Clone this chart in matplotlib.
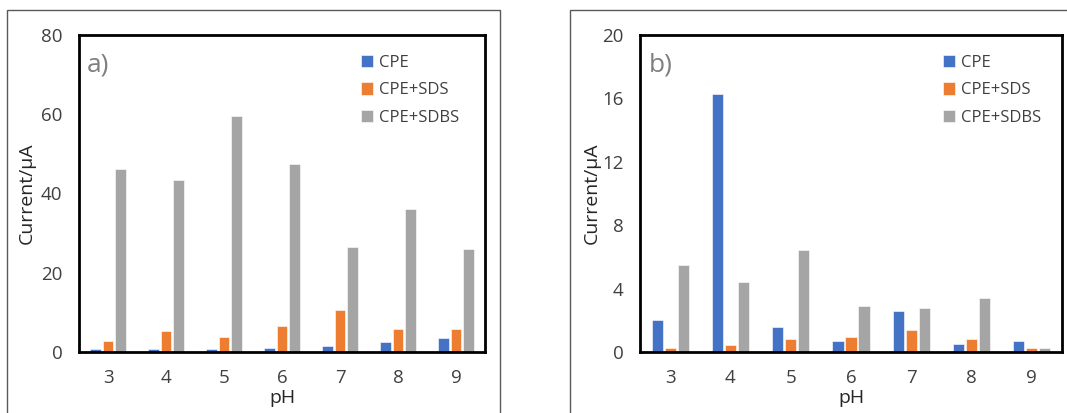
import matplotlib
matplotlib.use("Agg")
import matplotlib.pyplot as plt
from matplotlib.patches import Rectangle
import numpy as np

plt.rcParams['font.family'] = ['Open Sans', 'DejaVu Sans']

ph = ["3", "4", "5", "6", "7", "8", "9"]
series = ["CPE", "CPE+SDS", "CPE+SDBS"]
colors = ["#4472C4", "#ED7D31", "#A5A5A5"]

a_cpe = [0.7, 0.7, 0.7, 1.0, 1.5, 2.4, 3.5]
a_sds = [2.9, 5.4, 3.7, 6.5, 10.5, 5.9, 5.9]
a_sdbs = [46.2, 43.5, 59.6, 47.4, 26.4, 36.0, 25.9]

b_cpe = [2.0, 16.3, 1.6, 0.67, 2.6, 0.53, 0.67]
b_sds = [0.25, 0.46, 0.8, 0.93, 1.41, 0.8, 0.25]
b_sdbs = [5.5, 4.4, 6.46, 2.93, 2.78, 3.39, 0.25]

W, H = 1067, 413
fig = plt.figure(figsize=(W / 100, H / 100), dpi=100)

# outer panel frames
fig.add_artist(Rectangle((7 / W, -0.05), (500 - 7) / W, (H - 10) / H + 0.05,
                         transform=fig.transFigure, fill=False, edgecolor="#595959", lw=1.0))
fig.add_artist(Rectangle((570 / W, -0.05), 0.5, (H - 10) / H + 0.05,
                         transform=fig.transFigure, fill=False, edgecolor="#595959", lw=1.0))

def panel(rect, data, ymax, yticks, label, legx, ylpad):
    ax = fig.add_axes(rect)
    x = np.arange(len(ph))
    offs = [-0.215, 0.0, 0.215]
    for vals, c, o, name in zip(data, colors, offs, series):
        ax.bar(x + o, vals, width=0.185, color=c, edgecolor="white", linewidth=0.4, label=name)
    ax.set_xlim(-0.5, len(ph) - 0.5)
    ax.set_ylim(0, ymax)
    ax.set_yticks(yticks)
    ax.set_xticks(x)
    ax.set_xticklabels(ph)
    ax.tick_params(length=0, labelsize=13.5, colors="#404040")
    ax.tick_params(axis='x', pad=12)
    ax.tick_params(axis='y', pad=12)
    for s in ax.spines.values():
        s.set_linewidth(2)
        s.set_color("black")
    ax.set_xlabel("pH", fontsize=14, color="#262626", labelpad=2)
    ax.set_ylabel("Current/μA", fontsize=14, color="#262626", labelpad=ylpad)
    ax.text(0.02, 0.945, label, transform=ax.transAxes, fontsize=19, color="#7F7F7F",
            va="top", ha="left")
    leg = ax.legend(loc="upper left", bbox_to_anchor=(legx, 0.975), frameon=False,
                    fontsize=12, handlelength=0.75, handleheight=0.75,
                    handletextpad=0.35, labelspacing=0.7, borderaxespad=0.3)
    for t in leg.get_texts():
        t.set_color("#404040")
    return ax

panel([79 / W, (H - 352) / H, (485 - 79) / W, (352 - 35) / H],
      [a_cpe, a_sds, a_sdbs], 80, [0, 20, 40, 60, 80], "a)", 0.665, 4)
panel([640 / W, (H - 352) / H, (1062 - 640) / W, (352 - 35) / H],
      [b_cpe, b_sds, b_sdbs], 20, [0, 4, 8, 12, 16, 20], "b)", 0.69, 1)

fig.savefig("out.png", dpi=100)
